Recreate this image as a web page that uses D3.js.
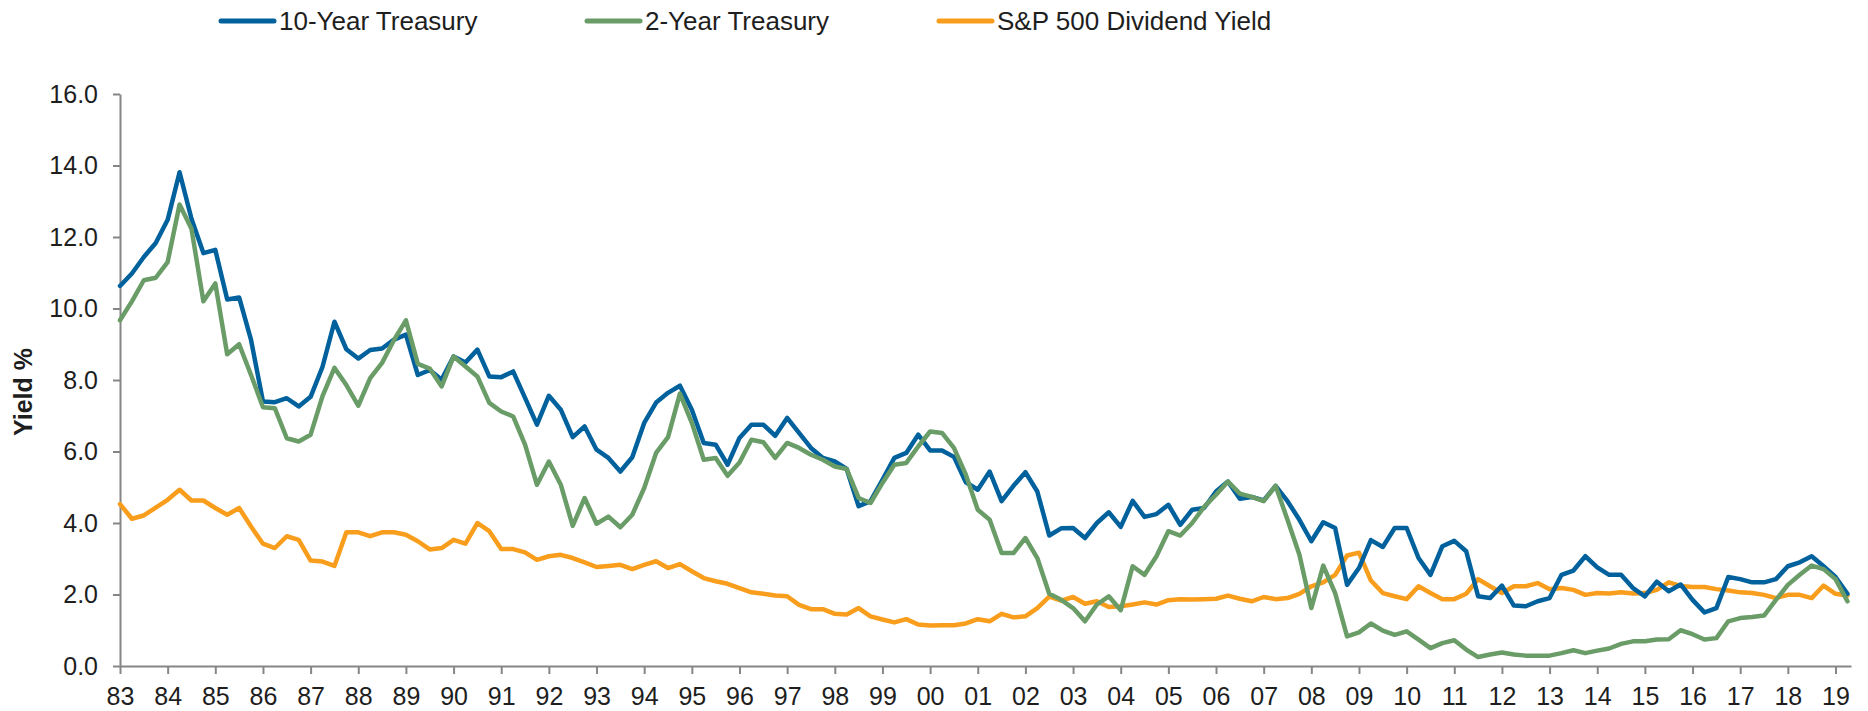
<!DOCTYPE html>
<html>
<head>
<meta charset="utf-8">
<script src="https://d3js.org/d3.v7.min.js"></script>
<style>
	body { margin: 0; background: #ffffff; }
	text { font-family: Arial, "Liberation Sans", sans-serif; }
</style>
</head>
<body>
<div id="plot1"></div>
<script>

// quarterly data, 1983 Q1 to 2019 Q2
var years = d3.range(1983, 2020);
var yTicks = [0, 2, 4, 6, 8, 10, 12, 14, 16];
var seriesNames = ['10-Year Treasury', '2-Year Treasury', 'S&P 500 Dividend Yield'];

var tenYear = [
	10.63, 10.98, 11.44, 11.83, 12.48, 13.81, 12.51, 11.55, 11.64, 10.25,
	10.31, 9.12, 7.40, 7.38, 7.49, 7.26, 7.53, 8.37, 9.63, 8.86,
	8.60, 8.84, 8.88, 9.13, 9.27, 8.14, 8.28, 8.01, 8.66, 8.49,
	8.85, 8.10, 8.08, 8.24, 7.50, 6.75, 7.56, 7.17, 6.40, 6.70,
	6.05, 5.82, 5.44, 5.84, 6.80, 7.37, 7.64, 7.84, 7.17, 6.24,
	6.19, 5.63, 6.38, 6.75, 6.75, 6.44, 6.94, 6.52, 6.10, 5.82,
	5.72, 5.51, 4.47, 4.61, 5.21, 5.82, 5.96, 6.47, 6.03, 6.03,
	5.85, 5.14, 4.93, 5.44, 4.61, 5.04, 5.42, 4.88, 3.65, 3.85,
	3.86, 3.58, 4.00, 4.30, 3.89, 4.62, 4.17, 4.25, 4.51, 3.95,
	4.37, 4.42, 4.88, 5.16, 4.68, 4.73, 4.63, 5.04, 4.61, 4.09,
	3.49, 4.02, 3.86, 2.27, 2.74, 3.52, 3.33, 3.86, 3.86, 3.02,
	2.55, 3.35, 3.50, 3.21, 1.95, 1.90, 2.25, 1.69, 1.67, 1.81,
	1.90, 2.55, 2.67, 3.07, 2.76, 2.55, 2.55, 2.18, 1.95, 2.36,
	2.09, 2.28, 1.85, 1.50, 1.62, 2.49, 2.43, 2.34, 2.34, 2.43,
	2.79, 2.90, 3.07, 2.79, 2.49, 2.02
];

var twoYear = [
	9.67, 10.20, 10.79, 10.86, 11.30, 12.91, 12.23, 10.20, 10.70, 8.72,
	9.00, 8.14, 7.24, 7.21, 6.37, 6.28, 6.47, 7.55, 8.34, 7.86,
	7.28, 8.05, 8.48, 9.12, 9.67, 8.45, 8.32, 7.82, 8.66, 8.38,
	8.10, 7.36, 7.12, 6.98, 6.19, 5.07, 5.72, 5.07, 3.92, 4.70,
	3.98, 4.18, 3.88, 4.23, 4.98, 5.96, 6.40, 7.62, 6.80, 5.77,
	5.82, 5.32, 5.69, 6.33, 6.26, 5.82, 6.24, 6.10, 5.91, 5.77,
	5.58, 5.51, 4.70, 4.56, 5.12, 5.63, 5.68, 6.14, 6.56, 6.52,
	6.10, 5.35, 4.37, 4.09, 3.16, 3.16, 3.58, 3.02, 2.02, 1.85,
	1.62, 1.25, 1.72, 1.95, 1.56, 2.79, 2.55, 3.07, 3.77, 3.65,
	4.00, 4.45, 4.79, 5.16, 4.82, 4.73, 4.61, 5.04, 4.09, 3.11,
	1.62, 2.81, 2.04, 0.83, 0.94, 1.19, 0.99, 0.87, 0.97, 0.74,
	0.50, 0.64, 0.72, 0.46, 0.25, 0.32, 0.38, 0.32, 0.29, 0.29,
	0.29, 0.36, 0.44, 0.36, 0.43, 0.49, 0.62, 0.69, 0.69, 0.74,
	0.75, 1.00, 0.89, 0.74, 0.78, 1.25, 1.34, 1.37, 1.41, 1.85,
	2.27, 2.55, 2.81, 2.71, 2.43, 1.81
];

var divYield = [
	4.53, 4.12, 4.21, 4.43, 4.65, 4.93, 4.63, 4.63, 4.42, 4.23,
	4.42, 3.90, 3.42, 3.30, 3.63, 3.53, 2.95, 2.92, 2.80, 3.74,
	3.74, 3.63, 3.74, 3.74, 3.67, 3.49, 3.26, 3.30, 3.53, 3.42,
	4.00, 3.77, 3.27, 3.27, 3.18, 2.97, 3.07, 3.11, 3.02, 2.90,
	2.77, 2.80, 2.83, 2.71, 2.83, 2.93, 2.74, 2.85, 2.65, 2.46,
	2.37, 2.30, 2.18, 2.06, 2.02, 1.97, 1.95, 1.71, 1.59, 1.59,
	1.46, 1.44, 1.62, 1.39, 1.30, 1.22, 1.31, 1.16, 1.13, 1.14,
	1.14, 1.19, 1.31, 1.25, 1.46, 1.36, 1.39, 1.62, 1.94, 1.83,
	1.93, 1.74, 1.81, 1.65, 1.67, 1.72, 1.78, 1.72, 1.84, 1.87,
	1.86, 1.87, 1.88, 1.97, 1.88, 1.81, 1.93, 1.87, 1.90, 2.02,
	2.23, 2.34, 2.55, 3.09, 3.17, 2.39, 2.04, 1.95, 1.87, 2.23,
	2.04, 1.87, 1.87, 2.02, 2.43, 2.23, 2.04, 2.23, 2.23, 2.32,
	2.15, 2.18, 2.13, 1.99, 2.04, 2.03, 2.06, 2.03, 2.04, 2.13,
	2.34, 2.24, 2.21, 2.21, 2.15, 2.11, 2.06, 2.04, 1.99, 1.90,
	1.99, 1.99, 1.90, 2.25, 2.02, 1.97
];

var colors = ['#00619c', '#6a9c67', '#f99d1c'];

var width1 = 1868;
var height1 = 711;

var plot1 = d3.select('#plot1')
	.append('svg')
	.attr('width', width1)
	.attr('height', height1)
	.attr('id', 'svg-graphic');

// scales: one step per quarter
var x = d3.scaleLinear().domain([0, 145.3]).range([120, 1851]);
var y = d3.scaleLinear().domain([0, 16]).range([666, 94]);

var axisColor = '#868686';

// y axis
var yAxis = plot1.append('g')
	.attr('transform', 'translate(' + x(0) + ',0)')
	.call(d3.axisLeft(y).tickValues(yTicks).tickFormat(d3.format('.1f'))
		.tickSize(7).tickSizeOuter(0).tickPadding(15));

// x axis, tick every year (4 quarters)
var xAxis = plot1.append('g')
	.attr('transform', 'translate(0,' + y(0) + ')')
	.call(d3.axisBottom(x).tickValues(years.map(function(d){ return (d - 1983) * 4; }))
		.tickFormat(function(d){ return String(1983 + d / 4).slice(2); })
		.tickSize(8).tickSizeOuter(0).tickPadding(13));

plot1.selectAll('.domain, .tick line')
	.attr('stroke', axisColor)
	.attr('stroke-width', 2);

plot1.selectAll('.tick text')
	.attr('fill', '#1e1e1e')
	.style('font-size', '25px')
	.style('font-family', 'Arial, "Liberation Sans", sans-serif');

// axis title
plot1.append('text')
	.attr('transform', 'translate(32,392) rotate(-90)')
	.attr('text-anchor', 'middle')
	.style('font-size', '25px')
	.style('font-weight', 'bold')
	.attr('fill', '#1e1e1e')
	.text('Yield %');

// lines
var line = d3.line()
	.x(function(d, i){ return x(i); })
	.y(function(d){ return y(d); });

var allSeries = [tenYear, twoYear, divYield];
var drawOrder = [2, 0, 1]; // orange behind, green on top

drawOrder.forEach(function(k){
	plot1.append('path')
		.datum(allSeries[k])
		.attr('d', line)
		.attr('fill', 'none')
		.attr('stroke', colors[k])
		.attr('stroke-width', 4.5)
		.attr('stroke-linejoin', 'round')
		.attr('stroke-linecap', 'round');
});

// legend
var legendX = [219, 585, 937];
var legend = plot1.selectAll('.legend')
	.data(seriesNames)
	.enter()
	.append('g')
	.attr('class', 'legend')
	.attr('transform', function(d, i){ return 'translate(' + legendX[i] + ',21)'; });

legend.append('line')
	.attr('x1', 2)
	.attr('x2', 55)
	.attr('stroke', function(d, i){ return colors[i]; })
	.attr('stroke-width', 5)
	.attr('stroke-linecap', 'round');

legend.append('text')
	.attr('x', 60)
	.attr('y', 9)
	.style('font-size', '26px')
	.attr('fill', '#1e1e1e')
	.text(function(d){ return d; });

</script>
</body>
</html>
